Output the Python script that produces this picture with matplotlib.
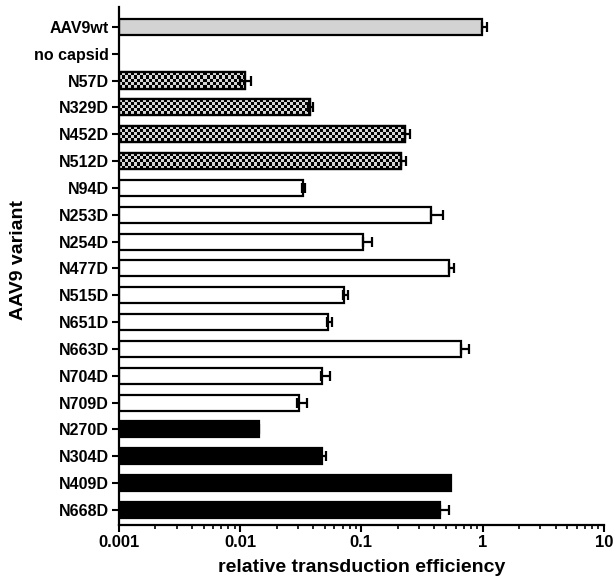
import numpy as np
import matplotlib
matplotlib.use("Agg")
import matplotlib.pyplot as plt

plt.rcParams['font.family'] = ['Liberation Sans', 'DejaVu Sans']
plt.rcParams['font.weight'] = 'bold'

variants = ["AAV9wt", "no capsid", "N57D", "N329D", "N452D", "N512D",
            "N94D", "N253D", "N254D", "N477D", "N515D", "N651D", "N663D",
            "N704D", "N709D", "N270D", "N304D", "N409D", "N668D"]
efficiency = [0.98, np.nan, 0.010, 0.0365, 0.230, 0.213,
              0.0322, 0.375, 0.103, 0.524, 0.0712, 0.0525, 0.663,
              0.0466, 0.0293, 0.0133, 0.0463, 0.548, 0.442]
upper = [1.09, np.nan, 0.0122, 0.040, 0.252, 0.233,
         0.0342, 0.468, 0.123, 0.584, 0.0783, 0.057, 0.767,
         0.0553, 0.0355, 0.0144, 0.0512, 0.548, 0.524]
group = ["wt", "none", "hatch", "hatch", "hatch", "hatch",
         "open", "open", "open", "open", "open", "open", "open",
         "open", "open", "solid", "solid", "solid", "solid"]

colors = {"wt": "#d3d3d3", "none": "white", "hatch": "#909090",
          "open": "white", "solid": "black"}

W, H = 613, 583
fig = plt.figure(figsize=(W / 100, H / 100), dpi=100)
ax_rect = [0.194, 0.0995, 0.791, 0.889]
ax = fig.add_axes(ax_rect)

# fine checkerboard (in axes pixels) used for the patterned bars
cell = 3
aw, ah = int(round(ax_rect[2] * W)), int(round(ax_rect[3] * H))
yy, xx = np.mgrid[0:ah, 0:aw]
checker = ((xx // cell + yy // cell) % 2).astype(float)

y = np.arange(len(variants))
vals = np.array(efficiency)
errs = np.array(upper) - vals

for i in range(len(variants)):
    if np.isnan(vals[i]):
        continue
    g = group[i]
    bars = ax.barh(y[i], vals[i], height=0.6, left=0.001, color=colors[g],
                   edgecolor="black", linewidth=1.6, zorder=2)
    if g == "hatch":
        im = ax.imshow(checker, cmap="gray", vmin=0, vmax=1.2,
                       interpolation="nearest", aspect="auto",
                       extent=[0, 1, 0, 1], transform=ax.transAxes,
                       zorder=2.5)
        im.set_clip_path(bars[0])
        ax.barh(y[i], vals[i], height=0.6, left=0.001, color="none",
                edgecolor="black", linewidth=1.6, zorder=2.6)
    if errs[i] > 0:
        ax.errorbar(vals[i], y[i], xerr=[[0], [errs[i]]], fmt="none",
                    ecolor="black", elinewidth=1.6, capsize=3.5, capthick=1.6,
                    zorder=3)

ax.set_xscale("log")
ax.set_xlim(0.001, 10)
ax.set_ylim(18.56, -0.75)
ax.set_yticks(y)
ax.set_yticklabels(variants, fontsize=11.5, fontweight="bold")
ax.set_xticks([0.001, 0.01, 0.1, 1, 10])
ax.set_xticklabels(["0.001", "0.01", "0.1", "1", "10"], fontsize=12,
                   fontweight="bold")
ax.set_xlabel("relative transduction efficiency", fontsize=14, fontweight="bold",
              labelpad=7)
ax.set_ylabel("AAV9 variant", fontsize=14, fontweight="bold")
ax.yaxis.set_label_coords(-0.19, 0.512)

for s in ["top", "right"]:
    ax.spines[s].set_visible(False)
for s in ["left", "bottom"]:
    ax.spines[s].set_linewidth(1.6)
ax.tick_params(axis="both", which="major", length=5, width=1.5, direction="out",
               pad=2)
ax.tick_params(axis="x", which="minor", length=3, width=1.2, direction="out")

fig.savefig("out.png", dpi=100)
